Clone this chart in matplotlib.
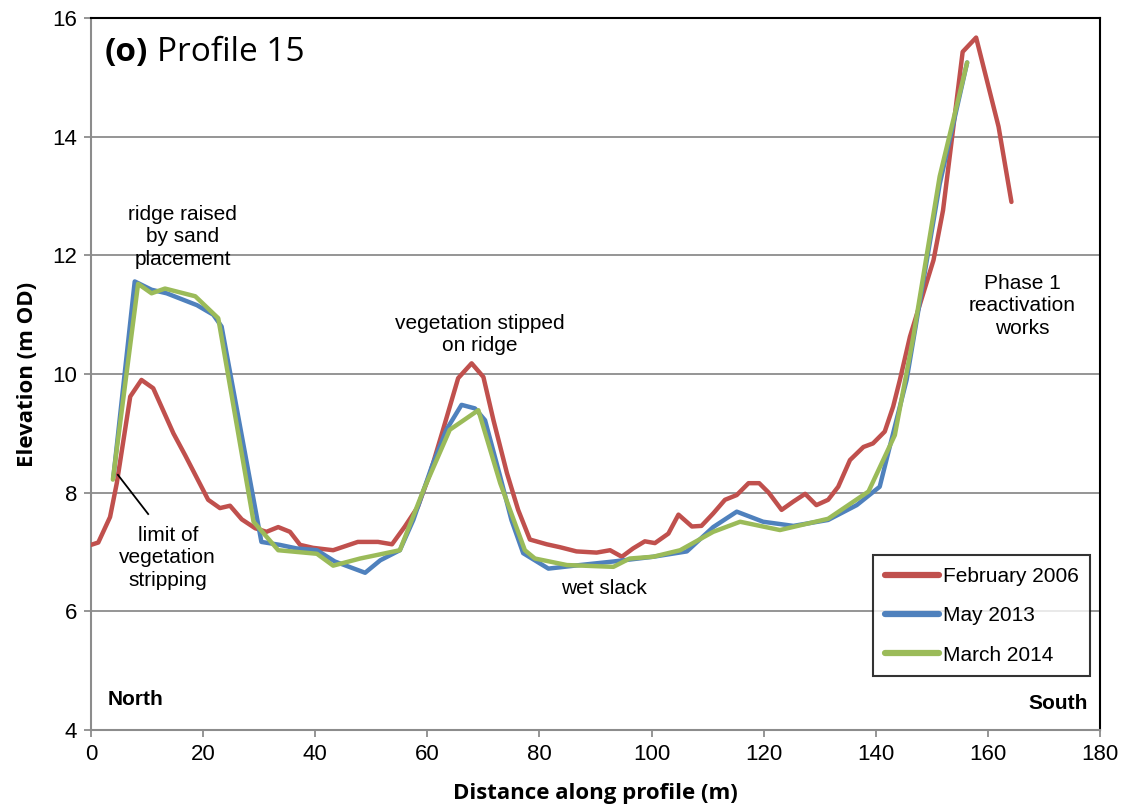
import matplotlib
matplotlib.use("Agg")
import matplotlib.pyplot as plt

# ---- data ----
feb2006_x = [0, 1.3, 3.4, 4.6, 7.0, 9.0, 11.1, 14.7, 16.8, 20.9, 23.0, 24.8, 26.9, 29.3, 31.3,
             33.4, 35.5, 37.3, 39.6, 43.2, 47.6, 51.2, 53.7, 56.0, 58.3, 60.5, 62.8, 65.5, 67.9,
             70.0, 71.8, 74.2, 76.2, 78.3, 81.3, 83.7, 86.6, 90.2, 92.6, 94.7, 96.7, 98.8, 100.6,
             103.0, 104.8, 107.2, 108.9, 111.0, 113.1, 115.2, 117.3, 119.2, 120.9, 123.2, 125.3,
             127.4, 129.4, 131.5, 133.3, 135.4, 137.8, 139.5, 141.6, 143.1, 144.3, 146.1, 150.3,
             152.0, 155.5, 157.9, 161.9, 164.2]
feb2006_y = [7.12, 7.16, 7.59, 8.16, 9.62, 9.90, 9.76, 9.00, 8.63, 7.88, 7.74, 7.78, 7.55, 7.40, 7.34,
             7.42, 7.34, 7.12, 7.07, 7.03, 7.17, 7.17, 7.13, 7.43, 7.76, 8.33, 9.06, 9.93, 10.18,
             9.95, 9.22, 8.33, 7.71, 7.21, 7.13, 7.08, 7.01, 6.99, 7.03, 6.92, 7.06, 7.18, 7.15,
             7.31, 7.63, 7.43, 7.44, 7.65, 7.88, 7.96, 8.16, 8.16, 8.00, 7.71, 7.85,
             7.98, 7.79, 7.88, 8.10, 8.55, 8.77, 8.83, 9.03, 9.45, 9.90, 10.63, 11.92,
             12.76, 15.43, 15.67, 14.17, 12.90]

may2013_x = [4.0, 7.8, 10.8, 13.5, 18.9, 21.8, 23.3, 30.4, 33.7, 36.7, 40.3, 43.5, 48.9, 51.6,
             55.1, 57.5, 60.8, 63.4, 66.1, 68.5, 70.3, 73.0, 75.0, 77.1, 81.6, 87.2, 93.2, 100.3,
             106.3, 111.0, 115.2, 119.9, 125.3, 131.5, 136.6, 140.7, 142.8, 145.5, 151.4, 156.3]
may2013_y = [8.27, 11.56, 11.42, 11.36, 11.16, 11.00, 10.80, 7.17, 7.12, 7.06, 7.03, 6.84, 6.65, 6.86,
             7.03, 7.54, 8.44, 9.06, 9.48, 9.42, 9.22, 8.27, 7.54, 6.98, 6.72, 6.78, 6.84, 6.92,
             7.01, 7.42, 7.68, 7.51, 7.44, 7.54, 7.79, 8.10, 8.89, 9.90, 13.20, 15.25]

mar2014_x = [3.9, 8.4, 10.8, 13.2, 18.6, 22.7, 29.0, 33.4, 40.3, 43.2, 48.0, 55.1, 59.3, 64.0,
             69.1, 73.0, 77.4, 79.2, 84.9, 93.2, 96.1, 100.3, 105.1, 111.0, 115.8, 122.9, 131.5,
             138.7, 143.4, 146.7, 151.4, 156.3]
mar2014_y = [8.22, 11.52, 11.36, 11.44, 11.31, 10.94, 7.51, 7.03, 6.97, 6.77, 6.89, 7.03, 8.04, 9.06,
             9.39, 8.16, 7.03, 6.89, 6.78, 6.75, 6.89, 6.92, 7.03, 7.34, 7.51, 7.37, 7.56,
             8.02, 8.97, 10.63, 13.33, 15.25]

series_labels = ["February 2006", "May 2013", "March 2014"]
colors = ["#C0504D", "#4F81BD", "#9BBB59"]

x_ticks = list(range(0, 181, 20))
y_ticks = list(range(4, 17, 2))

tick_font = "Liberation Sans"
plt.rcParams["font.family"] = [tick_font, "DejaVu Sans"]

# ---- figure ----
fig = plt.figure(figsize=(11.28, 8.07), dpi=100)
ax = fig.add_axes([91 / 1128, 1 - 730 / 807, (1100 - 91) / 1128, (730 - 18) / 807])

ax.plot(feb2006_x, feb2006_y, color=colors[0], lw=3.2, label=series_labels[0],
        solid_joinstyle="round", solid_capstyle="round", zorder=3)
ax.plot(may2013_x, may2013_y, color=colors[1], lw=3.2, label=series_labels[1],
        solid_joinstyle="round", solid_capstyle="round", zorder=4)
ax.plot(mar2014_x, mar2014_y, color=colors[2], lw=3.2, label=series_labels[2],
        solid_joinstyle="round", solid_capstyle="round", zorder=5)

ax.set_xlim(0, 180)
ax.set_ylim(4, 16)
ax.set_xticks(x_ticks)
ax.set_yticks(y_ticks)
ax.yaxis.grid(True, color="#8C8C8C", lw=1.3)
ax.set_axisbelow(True)

ax.tick_params(axis="both", direction="out", length=5, width=1.3, color="#8C8C8C",
               pad=5, labelsize=16)

for side in ["left", "bottom"]:
    ax.spines[side].set_color("#8C8C8C")
    ax.spines[side].set_linewidth(1.5)
for side in ["top", "right"]:
    ax.spines[side].set_color("black")
    ax.spines[side].set_linewidth(1.5)

ax.set_xlabel("Distance along profile (m)", fontfamily="Open Sans", fontweight="bold",
              fontsize=16, labelpad=13)
ax.set_ylabel("Elevation (m OD)", fontfamily="Open Sans", fontweight="bold",
              fontsize=16, labelpad=10)

# panel title
t1 = ax.text(2.5, 15.42, "(o)", fontfamily="Open Sans", fontweight="bold", fontsize=24,
             va="center", ha="left")
ax.annotate("Profile 15", xy=(1, 0), xycoords=t1, xytext=(6, 0), textcoords="offset points",
            fontfamily="Open Sans", fontsize=24, va="bottom", ha="left")

ann_kw = dict(fontfamily=tick_font, fontsize=15, ha="center", va="center", linespacing=1.22)
ax.text(16.4, 12.31, "ridge raised\nby sand\nplacement", **ann_kw)
ax.text(69.4, 10.67, "vegetation stipped\non ridge", **ann_kw)
ax.text(13.7, 6.90, "limit of\nvegetation\nstripping", **ann_kw)
ax.text(91.5, 6.38, "wet slack", **ann_kw)
ax.text(166.1, 11.15, "Phase 1\nreactivation\nworks", **ann_kw)
ax.plot([4.8, 10.2], [8.30, 7.64], color="black", lw=1.3, zorder=6)

ax.text(3.0, 4.52, "North", fontfamily=tick_font, fontweight="bold", fontsize=15,
        ha="left", va="center")
ax.text(177.8, 4.44, "South", fontfamily=tick_font, fontweight="bold", fontsize=15,
        ha="right", va="center")

leg = ax.legend(loc="lower right", bbox_to_anchor=(0.9905, 0.0755), frameon=True, fancybox=False,
                prop={"family": tick_font, "size": 15}, handlelength=2.6, borderpad=0.55,
                labelspacing=0.98, handletextpad=0.2, borderaxespad=0)
leg.get_frame().set_edgecolor("black")
leg.get_frame().set_linewidth(1.5)
for line in leg.get_lines():
    line.set_linewidth(4.5)

fig.savefig("out.png", dpi=100)
